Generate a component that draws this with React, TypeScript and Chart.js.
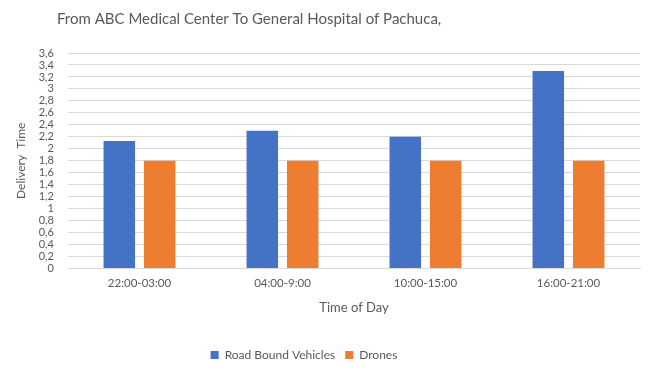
import React, { useEffect, useRef } from "react";
import { Chart, registerables } from "chart.js";

Chart.register(...registerables);

const categories = ["22:00-03:00", "04:00-9:00", "10:00-15:00", "16:00-21:00"];
const roadBound = [2.13, 2.3, 2.2, 3.3];
const drones = [1.8, 1.8, 1.8, 1.8];
const seriesNames = ["Road Bound Vehicles", "Drones"];
const titleText = "From ABC Medical Center To General Hospital of Pachuca,";

const shiftPlugin = {
  id: "shiftBlocks",
  afterLayout(chart: any) {
    if (chart.titleBlock) {
      chart.titleBlock.left += 43;
      chart.titleBlock.right += 43;
    }
    if (chart.legend) {
      chart.legend.left -= 23;
      chart.legend.right -= 23;
    }
  },
};

export default function App() {
  const ref = useRef<HTMLCanvasElement>(null);
  useEffect(() => {
    const ctx = ref.current!;
    const chart = new Chart(ctx, {
      type: "bar",
      data: {
        labels: categories,
        datasets: [
          { label: seriesNames[0], data: roadBound, backgroundColor: "#4472c4", barPercentage: 0.78, categoryPercentage: 0.565 },
          { label: seriesNames[1], data: drones, backgroundColor: "#ed7d31", barPercentage: 0.78, categoryPercentage: 0.565 },
        ],
      },
      plugins: [shiftPlugin],
      options: {
        animation: false,
        responsive: false,
        layout: { padding: { left: 14, right: 10, top: 10, bottom: 4 } },
        plugins: {
          title: {
            display: true,
            text: titleText,
            align: "start",
            color: "#595959",
            font: { family: "Lato", size: 15, weight: "normal" },
            padding: { top: 0, bottom: 25 },
          },
          legend: {
            position: "bottom",
            labels: {
              boxWidth: 8,
              boxHeight: 8,
              color: "#595959",
              font: { family: "Lato", size: 12 },
              padding: 10,
            },
          },
          tooltip: { enabled: false },
        },
        scales: {
          x: {
            grid: { display: false },
            border: { display: true, color: "#d9d9d9" },
            ticks: { color: "#595959", font: { family: "Lato", size: 11.5 }, padding: 0 },
            title: { display: true, text: "Time of Day", color: "#595959", font: { family: "Lato", size: 13 }, padding: { top: 10, bottom: 23 } },
          },
          y: {
            min: 0,
            max: 3.6,
            afterFit: (scale: any) => {
              scale.width = 54;
            },
            ticks: {
              stepSize: 0.2,
              autoSkip: false,
              color: "#595959",
              font: { family: "Lato", size: 11 },
              padding: 14,
              callback: (v: any) => String(Math.round(Number(v) * 10) / 10).replace(".", ","),
            },
            grid: { color: "#d9d9d9", drawTicks: false },
            border: { display: false },
            title: { display: true, text: "Delivery  Time", color: "#595959", font: { family: "Lato", size: 12 }, padding: { top: 0, bottom: 4 } },
          },
        },
      },
    });
    return () => chart.destroy();
  }, []);
  return (
    <div style={{ position: "absolute", left: 0, top: 0, width: 650, height: 375, background: "#fff" }}>
      <canvas ref={ref} width={650} height={375} />
    </div>
  );
}
